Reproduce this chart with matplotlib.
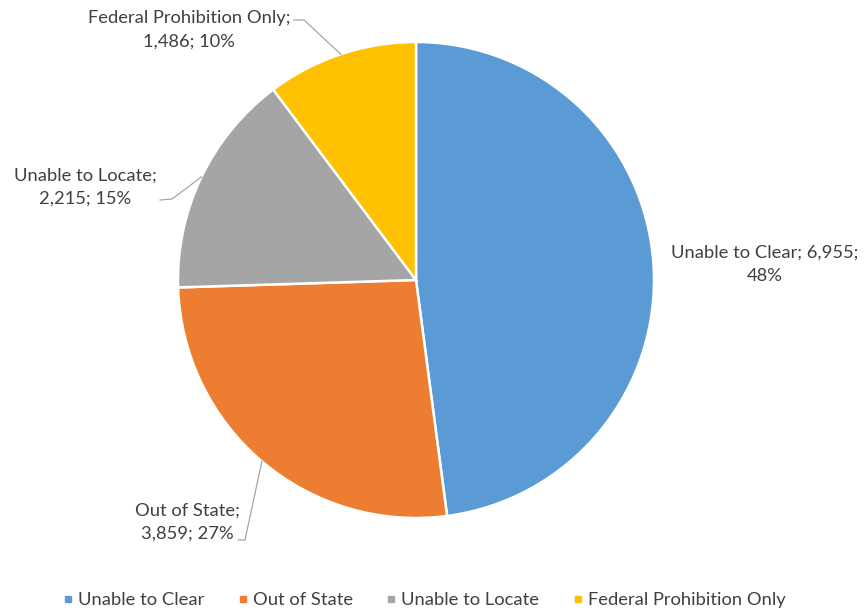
import numpy as np
import matplotlib.pyplot as plt
from matplotlib.lines import Line2D

# Data
categories = ["Unable to Clear", "Out of State", "Unable to Locate", "Federal Prohibition Only"]
counts = [6955, 3859, 2215, 1486]
percents = [48, 27, 15, 10]
colors = ["#5B9BD5", "#ED7D31", "#A5A5A5", "#FFC000"]

W, H = 866, 613
plt.rcParams['font.family'] = ['Lato', 'DejaVu Sans']
text_color = "#404040"

fig = plt.figure(figsize=(W / 100, H / 100), dpi=100)
ax = fig.add_axes([0, 0, 1, 1])

cx, cy, r = 416, H - 280, 238
wedges, _ = ax.pie(counts, colors=colors, startangle=90, counterclock=False,
                   center=(cx, cy), radius=r, frame=True,
                   wedgeprops=dict(edgecolor='white', linewidth=1.8))
ax.set_xlim(0, W)
ax.set_ylim(0, H)
ax.set_aspect('equal')
ax.axis('off')


def edge_point(w):
    mid = np.deg2rad((w.theta1 + w.theta2) / 2)
    return cx + r * np.cos(mid), cy + r * np.sin(mid)


def lbl(i):
    return f"{categories[i]};\n{counts[i]:,}; {percents[i]}%"


fs = 13.2
ls = 1.55
# Unable to Clear (no leader)
ax.text(765, H - 264, f"{categories[0]}; {counts[0]:,};\n{percents[0]}%",
        ha='center', va='center', fontsize=fs, color=text_color, linespacing=ls)
# Out of State
ax.text(187, H - 522, lbl(1), ha='center', va='center', fontsize=fs,
        color=text_color, linespacing=ls)
# Unable to Locate
ax.text(85, H - 187, lbl(2), ha='center', va='center', fontsize=fs,
        color=text_color, linespacing=ls)
# Federal Prohibition Only
ax.text(189, H - 30, lbl(3), ha='center', va='center', fontsize=fs,
        color=text_color, linespacing=ls)

# Leader lines
lead = dict(color="#A6A6A6", lw=0.9)
ex, ey = edge_point(wedges[1])
ax.plot([238, 245, ex], [H - 540, H - 540, ey], **lead)
ex, ey = edge_point(wedges[2])
ax.plot([160, 172, ex], [H - 200, H - 199, ey], **lead)
ex, ey = edge_point(wedges[3])
ax.plot([294, 304, ex], [H - 20, H - 20, ey], **lead)

# Legend
handles = [Line2D([], [], marker='s', linestyle='', markersize=5, color=c) for c in colors]
fig.legend(handles, categories, loc='center', bbox_to_anchor=(424 / W, 1 - 600 / H),
           ncol=4, frameon=False, fontsize=13.2, handletextpad=0.25, columnspacing=1.8,
           handlelength=0.6, labelcolor=text_color)

fig.savefig("out.png", dpi=100)
